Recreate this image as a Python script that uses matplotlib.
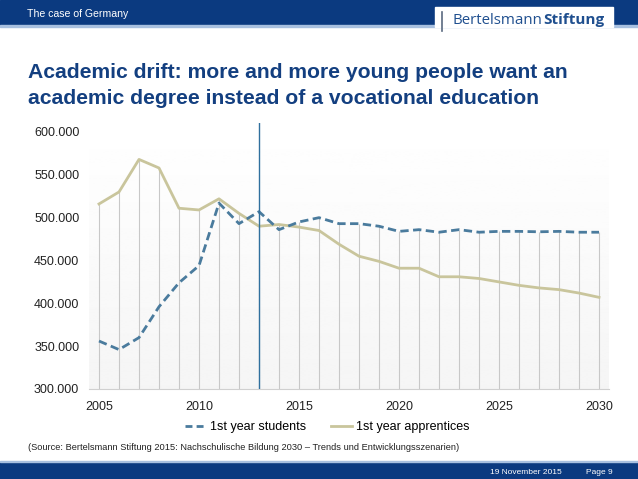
import numpy as np
import matplotlib
matplotlib.use("Agg")
from matplotlib import pyplot as plt
from matplotlib.lines import Line2D
from matplotlib.patches import Rectangle

plt.rcParams['font.family'] = ['Liberation Sans', 'DejaVu Sans']

years = list(range(2005, 2031))
students = [356, 346, 360, 396, 424, 444, 517, 493, 507, 486, 495, 500, 493, 493,
            490, 484, 486, 483, 486, 483, 484, 484, 483.5, 484, 483, 483]
apprentices = [516, 530, 568, 558, 511, 509, 522, 505, 490, 492, 489, 485, 469, 455,
               449, 441, 441, 431, 431, 429, 425, 421, 418, 416, 412, 407]
yticks = [300, 350, 400, 450, 500, 550, 600]
xticks = [2005, 2010, 2015, 2020, 2025, 2030]

blue_dark = '#0b3a80'
col_students = '#4a7b9d'
col_appr = '#c9c59c'

W, H = 638, 479
fig = plt.figure(figsize=(W / 100, H / 100), dpi=100)

# header and footer bands
fig.patches.append(Rectangle((0, 1 - 25 / H), 1, 25 / H, transform=fig.transFigure,
                             color=blue_dark, zorder=0))
fig.patches.append(Rectangle((0, 1 - 27 / H), 1, 2 / H, transform=fig.transFigure,
                             color='#a8c0e0', zorder=0))
fig.patches.append(Rectangle((435 / W, 1 - 27 / H), 178 / W, 20 / H, transform=fig.transFigure,
                             color='white', zorder=1))
fig.add_artist(Line2D([442 / W, 442 / W], [1 - 12 / H, 1 - 31 / H], color='#5a6a80', lw=1.2))
t1 = fig.text(452 / W, 1 - 20 / H, 'Bertelsmann', color='#1f4f8f', fontsize=10.8,
              family='Open Sans', va='center', ha='left')
fig.canvas.draw()
bb = t1.get_window_extent()
fig.text(bb.x1 / W + 1 / W, 1 - 20 / H, 'Stiftung', color='#1f4f8f', fontsize=11,
         family='Open Sans', fontweight='bold', va='center', ha='left')
fig.text(27 / W, 1 - 14 / H, 'The case of Germany', color='white', fontsize=7.6,
         va='center', ha='left')

fig.patches.append(Rectangle((0, 0), 1, 17 / H, transform=fig.transFigure,
                             color=blue_dark, zorder=0))
fig.patches.append(Rectangle((0, 17 / H), 1, 1.5 / H, transform=fig.transFigure,
                             color='#a8c0e0', zorder=0))
fig.text(490 / W, 7 / H, '19 November 2015', color='white', fontsize=6, va='center')
fig.text(586 / W, 7 / H, 'Page 9', color='white', fontsize=6, va='center')

# title
fig.text(28 / W, 1 - 72 / H, 'Academic drift: more and more young people want an',
         color='#133f80', fontsize=15.2, fontweight='bold', va='center')
fig.text(28 / W, 1 - 98 / H, 'academic degree instead of a vocational education',
         color='#133f80', fontsize=15.2, fontweight='bold', va='center')

fig.text(28 / W, 1 - 447 / H,
         '(Source: Bertelsmann Stiftung 2015: Nachschulische Bildung 2030 \u2013 '
         'Trends und Entwicklungsszenarien)', color='#222222', fontsize=6.7, va='center')

ax = fig.add_axes([89 / W, 1 - 389 / H, 520 / W, 266 / H])
ax.set_xlim(2004.5, 2030.5)
ax.set_ylim(300, 610.5)

# gradient background
grad = np.linspace(0.935, 1.0, 256) ** 0.6
grad = grad.reshape(-1, 1)
ax.imshow(grad, cmap='gray', vmin=0, vmax=1, aspect='auto',
          extent=[2004.5, 2030.5, 300, 610.5], origin='lower', zorder=0)

# drop lines
tops = np.maximum(students, apprentices)
ax.vlines(years, 300, tops, color='#c8c8c8', lw=0.8, zorder=1)

ax.plot(years, apprentices, color=col_appr, lw=2, zorder=3, label='1st year apprentices')
ax.plot(years, students, color=col_students, lw=2, ls=(0, (3, 1.6)), zorder=4,
        label='1st year students')
ax.axvline(2013, ymin=0, ymax=1, color='#30709e', lw=1, zorder=5)

for s in ['top', 'right', 'left']:
    ax.spines[s].set_visible(False)
ax.spines['bottom'].set_color('#d0d0d0')
ax.set_yticks(yticks)
ax.set_yticklabels([f'{v}.000' for v in yticks])
ax.set_xticks(xticks)
ax.tick_params(length=0, labelsize=9, colors='#222222')
ax.tick_params(axis='x', pad=9)
ax.tick_params(axis='y', pad=7)

handles = [Line2D([], [], color=col_students, lw=2, ls=(0, (2.5, 1.5))),
           Line2D([], [], color=col_appr, lw=2)]
fig.legend(handles, ['1st year students', '1st year apprentices'], ncol=2,
           loc='center', bbox_to_anchor=(327 / W, 1 - 427 / H), frameon=False,
           fontsize=9, handlelength=1.7, handletextpad=0.3, columnspacing=2.0)

fig.savefig('out.png', dpi=100)
